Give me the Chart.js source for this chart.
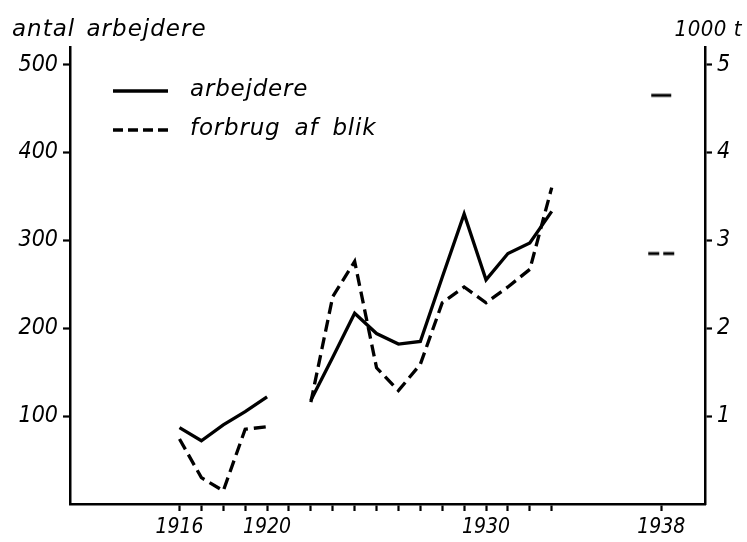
<!DOCTYPE html>
<html>
<head>
<meta charset="utf-8">
<script src="https://cdn.jsdelivr.net/npm/chart.js@4/dist/chart.umd.min.js"></script>
<style>
  html, body { margin: 0; padding: 0; background: #fff; overflow: hidden; }
  canvas { display: block; }
</style>
</head>
<body>
<canvas id="c" width="747" height="542"></canvas>
<script>
// Years on the x axis (1921 has no observation)
const years = [1916, 1917, 1918, 1919, 1920, 1921, 1922, 1923, 1924, 1925, 1926, 1927, 1928, 1929, 1930, 1931, 1932, 1933];
// Number of workers (left axis)
const workers = [87, 72, 90, 105, 122, null, 118, 167, 217, 194, 182, 185, 258, 330, 255, 285, 297, 333];
// Consumption of tin plate, 1000 t (right axis)
const tinPlate = [0.74, 0.30, 0.15, 0.85, 0.88, null, 1.16, 2.36, 2.76, 1.55, 1.29, 1.59, 2.29, 2.47, 2.29, 2.47, 2.67, 3.60];
// Isolated 1938 observations
const year1938 = 1938;
const workers1938 = 465;
const tinPlate1938 = 2.85;
// Axis ticks and labels
const xTicks = [1916, 1917, 1918, 1919, 1920, 1921, 1922, 1923, 1924, 1925, 1926, 1927, 1928, 1929, 1930, 1931, 1932, 1933, 1938];
const xLabels = [1916, 1920, 1930, 1938];
const leftTicks = [100, 200, 300, 400, 500];
const rightTicks = [1, 2, 3, 4, 5];
const leftTitle = 'antal arbejdere';
const rightTitle = '1000 t';
const seriesNames = ['arbejdere', 'forbrug af blik'];

const TEXT_FONT = '"DejaVu Sans", sans-serif';
const NUM_FONT = '"DejaVu Sans Condensed", "DejaVu Sans", sans-serif';
const DASH = [12, 6];
const LINE_W = 3.3;

// Short horizontal marks used for the 1938 values
function markCanvas(dashed) {
  const c = document.createElement('canvas');
  c.width = 28; c.height = 6;
  const g = c.getContext('2d');
  g.strokeStyle = '#000';
  g.lineWidth = 3;
  g.beginPath();
  if (dashed) {
    g.moveTo(1, 3); g.lineTo(12, 3);
    g.moveTo(16, 3); g.lineTo(27, 3);
  } else {
    g.moveTo(4, 3); g.lineTo(24, 3);
  }
  g.stroke();
  return c;
}

const toXY = (vals) => years.map((y, i) => ({ x: y, y: vals[i] }));

// Legend and axis captions drawn inside/around the plot
const decorations = {
  id: 'decorations',
  afterDraw(chart) {
    const ctx = chart.ctx;
    ctx.save();
    ctx.fillStyle = '#000';
    ctx.font = 'italic 23px ' + TEXT_FONT;
    ctx.letterSpacing = '1px';
    ctx.wordSpacing = '3px';
    ctx.textBaseline = 'alphabetic';
    ctx.textAlign = 'left';
    ctx.fillText(leftTitle, 12, 36);
    ctx.font = 'italic 22px ' + NUM_FONT;
    ctx.letterSpacing = '0.5px';
    ctx.wordSpacing = '0px';
    ctx.textAlign = 'right';
    ctx.fillText(rightTitle, 742, 36);

    // legend entries
    const items = [chart.data.datasets[0], chart.data.datasets[1]];
    items.forEach((ds, i) => {
      const y = 91 + i * 39;
      ctx.strokeStyle = '#000';
      ctx.lineWidth = LINE_W;
      ctx.setLineDash(ds.borderDash && ds.borderDash.length ? [10, 5] : []);
      ctx.beginPath();
      ctx.moveTo(113, y);
      ctx.lineTo(168, y);
      ctx.stroke();
      ctx.setLineDash([]);
      ctx.textAlign = 'left';
      ctx.textBaseline = 'middle';
      ctx.font = 'italic 23px ' + TEXT_FONT;
      ctx.letterSpacing = '0.8px';
      ctx.wordSpacing = '6px';
      ctx.fillText(ds.label, 190, y - 1);
    });
    ctx.restore();
  }
};

new Chart(document.getElementById('c'), {
  type: 'line',
  data: {
    datasets: [
      {
        label: seriesNames[0],
        data: toXY(workers),
        yAxisID: 'yL',
        borderColor: '#000',
        borderWidth: LINE_W,
        pointRadius: 0,
        tension: 0,
        spanGaps: false
      },
      {
        label: seriesNames[1],
        data: toXY(tinPlate),
        yAxisID: 'yR',
        borderColor: '#000',
        borderWidth: LINE_W,
        borderDash: DASH,
        pointRadius: 0,
        tension: 0,
        spanGaps: false
      },
      {
        label: seriesNames[0] + ' ' + year1938,
        data: [{ x: year1938, y: workers1938 }],
        yAxisID: 'yL',
        showLine: false,
        pointStyle: markCanvas(false),
        pointRadius: 10
      },
      {
        label: seriesNames[1] + ' ' + year1938,
        data: [{ x: year1938, y: tinPlate1938 }],
        yAxisID: 'yR',
        showLine: false,
        pointStyle: markCanvas(true),
        pointRadius: 10
      }
    ]
  },
  options: {
    responsive: false,
    animation: false,
    devicePixelRatio: 1,
    layout: { padding: { top: 47, left: 0, right: 0, bottom: 0 } },
    plugins: { legend: { display: false }, tooltip: { enabled: false } },
    scales: {
      x: {
        type: 'linear',
        min: 1911,
        max: 1940,
        afterBuildTicks(s) { s.ticks = xTicks.map(v => ({ value: v })); },
        afterFit(s) { s.height = 38; },
        border: { display: true, color: '#000', width: 2.5 },
        grid: { display: true, drawOnChartArea: false, drawTicks: true, tickLength: 7, tickWidth: 2.2, tickColor: '#000' },
        ticks: {
          autoSkip: false,
          maxRotation: 0,
          padding: 4,
          color: '#000',
          font: { family: NUM_FONT, size: 21, style: 'italic' },
          callback: (v) => xLabels.includes(v) ? String(v) : ''
        }
      },
      yL: {
        position: 'left',
        min: 0,
        max: 520,
        afterBuildTicks(s) { s.ticks = leftTicks.map(v => ({ value: v })); },
        afterFit(s) { s.width = 70; },
        border: { display: true, color: '#000', width: 2.5 },
        grid: { display: true, drawOnChartArea: false, tickLength: 7, tickWidth: 2.2, tickColor: '#000' },
        ticks: {
          padding: 5,
          color: '#000',
          font: { family: NUM_FONT, size: 23, style: 'italic' },
          callback: (v) => String(v)
        }
      },
      yR: {
        position: 'right',
        min: 0,
        max: 5.2,
        afterBuildTicks(s) { s.ticks = rightTicks.map(v => ({ value: v })); },
        afterFit(s) { s.width = 42; },
        border: { display: true, color: '#000', width: 2.5 },
        grid: { display: true, drawOnChartArea: false, tickLength: 7, tickWidth: 2.2, tickColor: '#000' },
        ticks: {
          padding: 5,
          color: '#000',
          font: { family: NUM_FONT, size: 23, style: 'italic' },
          callback: (v) => String(v)
        }
      }
    }
  },
  plugins: [decorations]
});
</script>
</body>
</html>
